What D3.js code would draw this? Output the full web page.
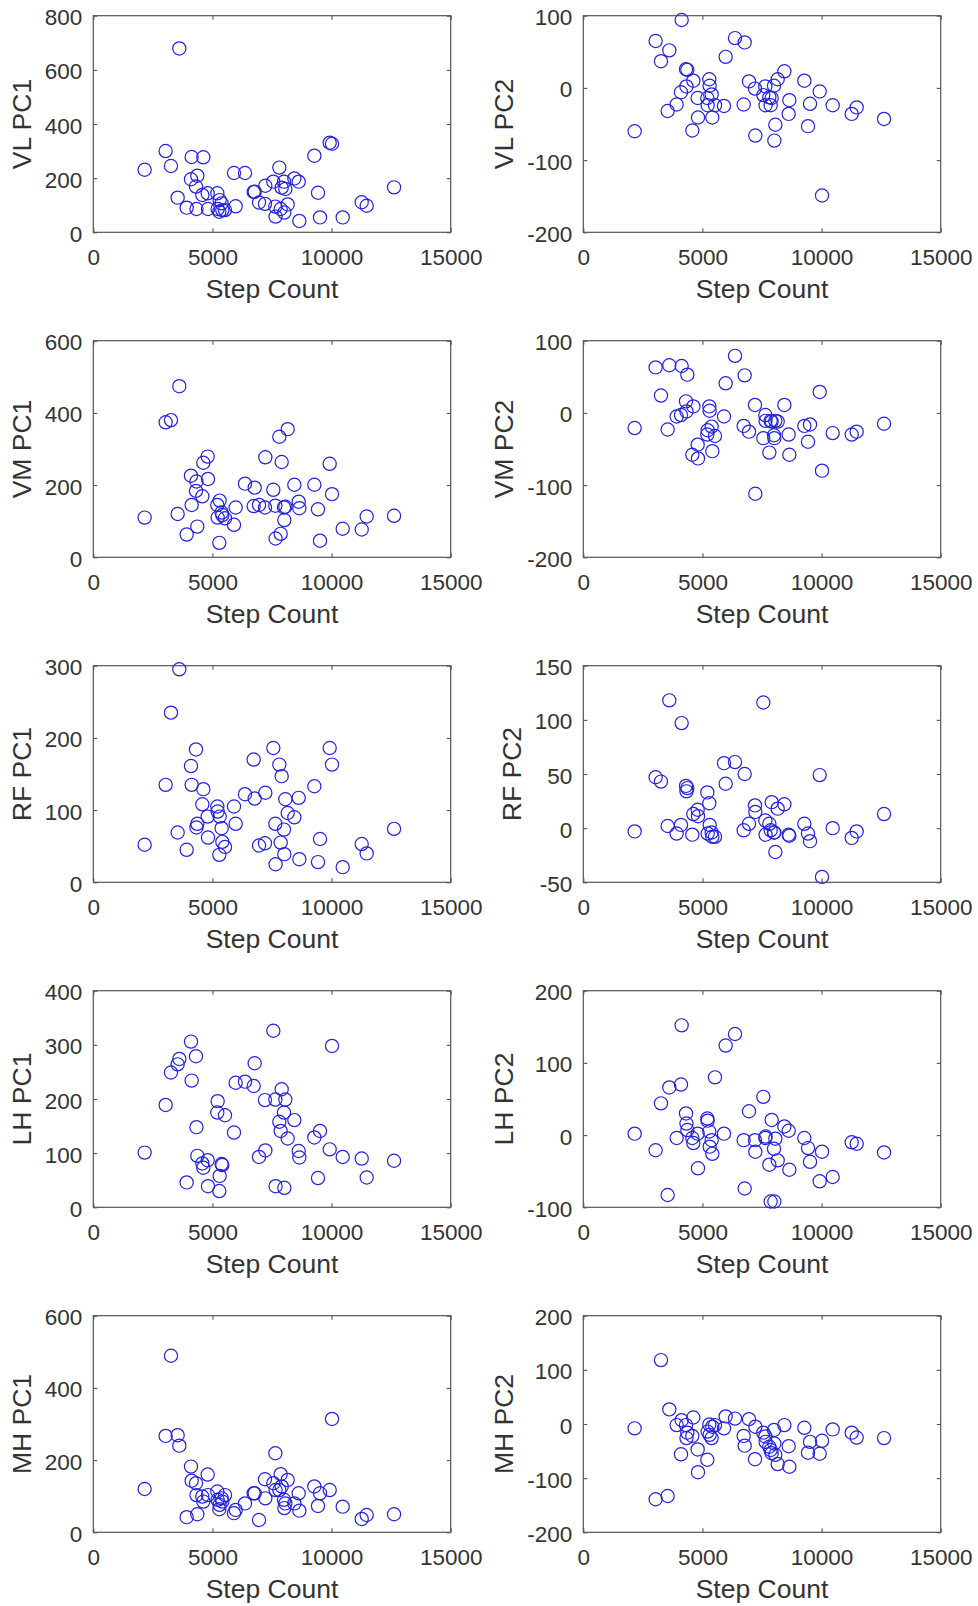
<!DOCTYPE html>
<html>
<head>
<meta charset="utf-8">
<script src="https://cdn.jsdelivr.net/npm/d3@7"></script>
<style>
  html, body { margin: 0; padding: 0; background: #ffffff; }
  svg { display: block; }
  text { font-family: "Liberation Sans", Arial, Helvetica, sans-serif; fill: #333333; }
</style>
</head>
<body>
<svg id="chart" width="978" height="1606"></svg>
<script>
// Daily step count per participant (shared by every panel)
const steps = [2155, 3036, 3260, 3540, 3610, 3918, 4100, 4128, 4310, 4330, 4366, 4576, 4618,
  4800, 4814, 5205, 5219, 5289, 5303, 5387, 5415, 5527, 5905, 5975, 6367, 6731, 6773, 6955,
  7206, 7220, 7556, 7640, 7650, 7808, 7864, 7906, 8004, 8018, 8060, 8158, 8438, 8620, 8648,
  9277, 9431, 9515, 9921, 10019, 10467, 11265, 11474, 12622];

// Principal component scores per muscle
const vlPC1 = [231, 300, 245, 128, 679, 91, 196, 278, 169, 86, 209, 138, 277, 144, 86, 144, 86, 76, 119, 107,
  82, 82, 219, 96, 219, 149, 150, 110, 105, 172, 187, 95, 58, 239, 86, 165, 187, 73, 160, 103,
  199, 187, 42, 283, 146, 55, 331, 327, 55, 111, 98, 166];
const vlPC2 = [-60, 65, 37, -32, 52, -23, -6, 94, 26, 2, 25, -59, 10, -14, -41, -14, -24, 12, 3, -9,
  -41, -24, -25, 43, 69, -23, 63, 9, -1, -66, -10, 2, -24, -13, -24, -14, 3, -73, -51, 12,
  23, -36, -17, 10, -53, -22, -5, -149, -24, -36, -27, -43];
const vmPC1 = [110, 374, 380, 120, 474, 63, 226, 145, 184, 210, 85, 169, 262, 279, 217, 145, 110, 40, 157, 124,
  117, 108, 90, 138, 204, 142, 193, 145, 138, 277, 187, 143, 52, 334, 65, 264, 138, 103, 140, 355,
  201, 154, 136, 201, 133, 46, 259, 175, 79, 77, 113, 115];
const vmPC2 = [-21, 63, 24, -23, 66, -5, -3, 65, 16, 2, 53, -58, 9, -44, -63, -30, -24, 9, 3, -19,
  -53, -32, -5, 41, 79, -18, 52, -26, 11, -112, -35, -3, -11, -55, -11, -12, -31, -35, -11, -12,
  11, -30, -58, -18, -40, -16, 29, -80, -28, -30, -26, -15];
const rfPC1 = [52, 135, 235, 69, 295, 45, 161, 135, 184, 76, 81, 108, 129, 91, 62, 105, 98, 38, 91, 75,
  56, 49, 105, 81, 122, 170, 116, 51, 54, 124, 186, 81, 25, 163, 55, 147, 73, 39, 115, 96,
  90, 117, 32, 133, 28, 60, 186, 163, 21, 53, 40, 74];
const rfPC2 = [-3, 47, 43, 2, 118, -5, 3, 97, 39, 34, 37, -6, 13, 17, 11, 33, -5, 23, 3, -4,
  -8, -8, 60, 41, 61, -2, 50, 4, 21, 15, 116, 7, -6, 4, -2, 24, -4, -4, -22, 18,
  22, -6, -7, 4, -5, -12, 49, -45, 0, -9, -3, 13];
const lhPC1 = [101, 189, 249, 264, 274, 46, 306, 234, 279, 148, 95, 81, 73, 87, 39, 175, 196, 30, 58, 80,
  78, 170, 138, 230, 232, 224, 266, 93, 198, 105, 326, 199, 39, 158, 141, 218, 175, 36, 199, 127,
  161, 104, 92, 129, 54, 141, 107, 298, 93, 90, 55, 86];
const lhPC2 = [2, -21, 44, -83, 66, -4, 70, 152, 30, 16, 7, -4, -11, 2, -46, 23, 20, 5, -16, -7,
  -26, 80, 2, 124, 140, -7, -74, 33, -7, -23, 53, -4, -2, -41, -92, 21, -19, -92, -5, -35,
  12, 6, -48, -4, -18, -37, -64, -23, -58, -10, -12, -24];
const mhPC1 = [120, 267, 489, 269, 240, 42, 182, 143, 136, 103, 50, 99, 85, 160, 103, 113, 90, 64, 76, 94,
  85, 103, 53, 62, 80, 108, 108, 34, 147, 94, 136, 219, 117, 117, 161, 127, 90, 67, 80, 145,
  80, 108, 60, 127, 73, 108, 117, 314, 71, 37, 48, 50];
const mhPC2 = [-8, -139, 118, -133, 27, -2, -56, 7, -2, -26, -16, -22, 12, -47, -89, -66, -14, -1, -20, -26,
  -5, -2, -8, 14, 10, -22, -40, 9, -65, -5, -16, -23, -33, -42, -48, -54, -11, -36, -57, -74,
  -2, -41, -79, -7, -53, -33, -55, -31, -10, -16, -25, -26];

// Axis settings
const xDomain = [0, 15000];
const xTicks = [0, 5000, 10000, 15000];
const xLabel = "Step Count";

// Panels in reading order: label, values, y range, y tick step
const panels = [
  { label: "VL PC1", values: vlPC1, domain: [0, 800], step: 200 },
  { label: "VL PC2", values: vlPC2, domain: [-200, 100], step: 100 },
  { label: "VM PC1", values: vmPC1, domain: [0, 600], step: 200 },
  { label: "VM PC2", values: vmPC2, domain: [-200, 100], step: 100 },
  { label: "RF PC1", values: rfPC1, domain: [0, 300], step: 100 },
  { label: "RF PC2", values: rfPC2, domain: [-50, 150], step: 50 },
  { label: "LH PC1", values: lhPC1, domain: [0, 400], step: 100 },
  { label: "LH PC2", values: lhPC2, domain: [-100, 200], step: 100 },
  { label: "MH PC1", values: mhPC1, domain: [0, 600], step: 200 },
  { label: "MH PC2", values: mhPC2, domain: [-200, 200], step: 100 }
];

// Layout
const colLeft = [93.3, 583.3];
const rowTop = [15.7, 340.7, 665.7, 990.7, 1315.7];
const plotW = 357.4, plotH = 216.6;
const tickLen = 4;
const tickFont = 22.5, labelFont = 26.5;
const boxColor = "#555555";
const markerColor = "#2323dc";

// Integer labels with a plain hyphen as minus sign
const fmt = d => String(Math.round(d));

const svg = d3.select("#chart");

panels.forEach((p, i) => {
  const col = i % 2, row = Math.floor(i / 2);
  const g = svg.append("g").attr("transform", `translate(${colLeft[col]},${rowTop[row]})`);

  const x = d3.scaleLinear().domain(xDomain).range([0, plotW]);
  const y = d3.scaleLinear().domain(p.domain).range([plotH, 0]);
  const yTicks = d3.range(p.domain[0], p.domain[1] + p.step / 2, p.step);

  // Bottom axis with labels
  const gx = g.append("g").attr("transform", `translate(0,${plotH})`)
    .call(d3.axisBottom(x).tickValues(xTicks).tickFormat(fmt)
      .tickSizeInner(-tickLen).tickSizeOuter(0).tickPadding(16.5));
  // Left axis with labels
  const gy = g.append("g")
    .call(d3.axisLeft(y).tickValues(yTicks).tickFormat(fmt)
      .tickSizeInner(-tickLen).tickSizeOuter(0).tickPadding(11));
  // Top and right axes: tick marks only
  const gt = g.append("g")
    .call(d3.axisTop(x).tickValues(xTicks).tickFormat("").tickSizeInner(-tickLen).tickSizeOuter(0));
  const gr = g.append("g").attr("transform", `translate(${plotW},0)`)
    .call(d3.axisRight(y).tickValues(yTicks).tickFormat("").tickSizeInner(-tickLen).tickSizeOuter(0));

  [gx, gy, gt, gr].forEach(a => {
    a.select(".domain").remove();
    a.selectAll(".tick line").attr("stroke", boxColor).attr("stroke-width", 1.1);
    a.selectAll(".tick text").attr("font-size", tickFont).attr("font-family", null).attr("fill", "#333333");
  });
  gy.selectAll(".tick text").attr("dy", "0.40em");

  // Axes box
  g.append("rect")
    .attr("x", 0).attr("y", 0).attr("width", plotW).attr("height", plotH)
    .attr("fill", "none").attr("stroke", boxColor).attr("stroke-width", 1.2);

  // Scatter markers
  g.append("g").selectAll("circle")
    .data(p.values.map((v, k) => [steps[k], v]))
    .join("circle")
    .attr("cx", d => x(d[0]))
    .attr("cy", d => y(d[1]))
    .attr("r", 6.6)
    .attr("fill", "none")
    .attr("stroke", markerColor)
    .attr("stroke-width", 1.2);

  // X label
  g.append("text")
    .attr("x", plotW / 2).attr("y", plotH + 65.5)
    .attr("text-anchor", "middle")
    .attr("font-size", labelFont)
    .text(xLabel);

  // Y label placed just left of the widest tick label
  let minLeft = 0;
  gy.selectAll(".tick text").each(function () {
    minLeft = Math.min(minLeft, this.getBBox().x);
  });
  g.append("text")
    .attr("transform", `translate(${minLeft - 14},${plotH / 2}) rotate(-90)`)
    .attr("text-anchor", "middle")
    .attr("font-size", labelFont)
    .text(p.label);
});
</script>
</body>
</html>
